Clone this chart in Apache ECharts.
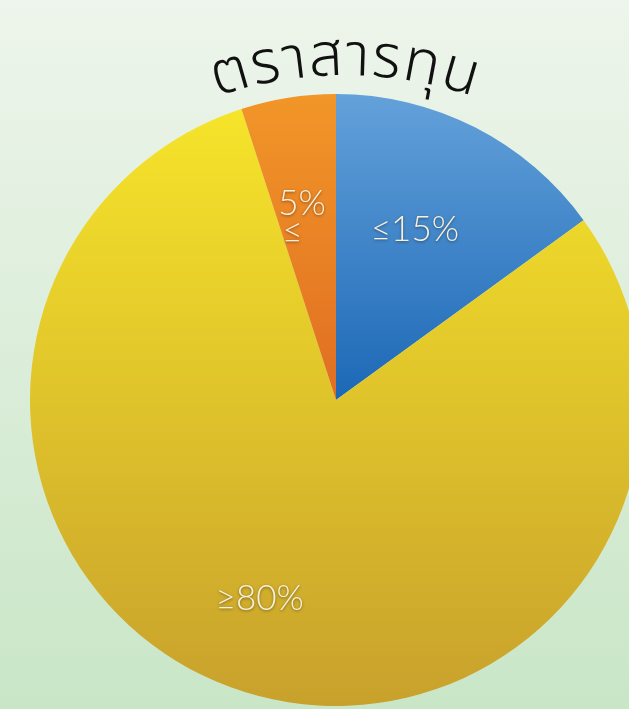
<!DOCTYPE html>
<html>
<head>
<meta charset="utf-8">
<style>
  html, body { margin: 0; padding: 0; }
  #chart { width: 629px; height: 709px; }
</style>
<script src="https://cdn.jsdelivr.net/npm/echarts@6/dist/echarts.min.js"></script>
</head>
<body>
<div id="chart"></div>
<script>
// slices, clockwise from 12 o'clock
const categories = ['≤15%', '≥80%', '5%\n≤  '];
const shares = [15, 80, 5];
// grapheme clusters of the title "ตราสารทุน" (ุ stays on ท)
const titleParts = ['ต', 'ร', 'า', 'ส', 'า', 'ร', 'ทุ', 'น'];

const sliceColors = [
  ['#63a1da', '#1c68b6'],
  ['#f6e42a', '#c8a12c'],
  ['#f29628', '#e06e22']
];
// small nudges of the labels off the ring centre
const labelNudge = [[-11, 6], [-15, 10], [-3, 13]];

const cx = 336, cy = 400, R = 306;

const chart = echarts.init(document.getElementById('chart'));

// lay the title out on an arc above the pie
const titleFont = '300 60px "Noto Sans Thai", "Noto Sans", sans-serif';
const ctx = document.createElement('canvas').getContext('2d');
ctx.font = titleFont;
const widths = titleParts.map(p => ctx.measureText(p).width);
const arcCx = 345, arcCy = 473, arcR = 380;
const total = widths.reduce((a, b) => a + b, 0);
let pos = -total / 2;
const titleGraphics = titleParts.map((p, i) => {
  const mid = pos + widths[i] / 2;
  pos += widths[i];
  const a = mid / arcR;
  return {
    type: 'text',
    x: arcCx + arcR * Math.sin(a),
    y: arcCy - arcR * Math.cos(a),
    rotation: -a,
    style: {
      text: p,
      font: titleFont,
      fill: '#111',
      align: 'center',
      verticalAlign: 'bottom'
    }
  };
});

const pieData = categories.map((c, i) => ({
  name: c,
  value: shares[i],
  itemStyle: {
    color: new echarts.graphic.LinearGradient(0, 0, 0, 1, [
      { offset: 0, color: sliceColors[i][0] },
      { offset: 1, color: sliceColors[i][1] }
    ])
  }
}));

chart.setOption({
  backgroundColor: new echarts.graphic.LinearGradient(0, 0, 0, 1, [
    { offset: 0, color: '#eef5ec' },
    { offset: 1, color: '#c9e6c7' }
  ]),
  animation: false,
  graphic: titleGraphics,
  series: [
    {
      type: 'pie',
      center: [cx, cy],
      radius: [0, R],
      startAngle: 90,
      clockwise: true,
      silent: true,
      label: { show: false },
      labelLine: { show: false },
      data: pieData
    },
    {
      // transparent ring used only to place the labels further out
      type: 'pie',
      center: [cx, cy],
      radius: [95, 295],
      startAngle: 90,
      clockwise: true,
      silent: true,
      itemStyle: { color: 'rgba(0,0,0,0)' },
      label: {
        show: true,
        position: 'inside',
        formatter: '{b}',
        color: '#f9f1de',
        fontSize: 35,
        fontWeight: 300,
        lineHeight: 28,
        fontFamily: 'Lato, sans-serif',
        textShadowColor: 'rgba(0,0,0,0.45)',
        textShadowBlur: 3,
        textShadowOffsetY: 1
      },
      labelLayout: function (params) {
        const n = labelNudge[params.dataIndex];
        return { dx: n[0], dy: n[1] };
      },
      labelLine: { show: false },
      data: categories.map((c, i) => ({ name: c, value: shares[i] }))
    }
  ]
});
</script>
</body>
</html>
